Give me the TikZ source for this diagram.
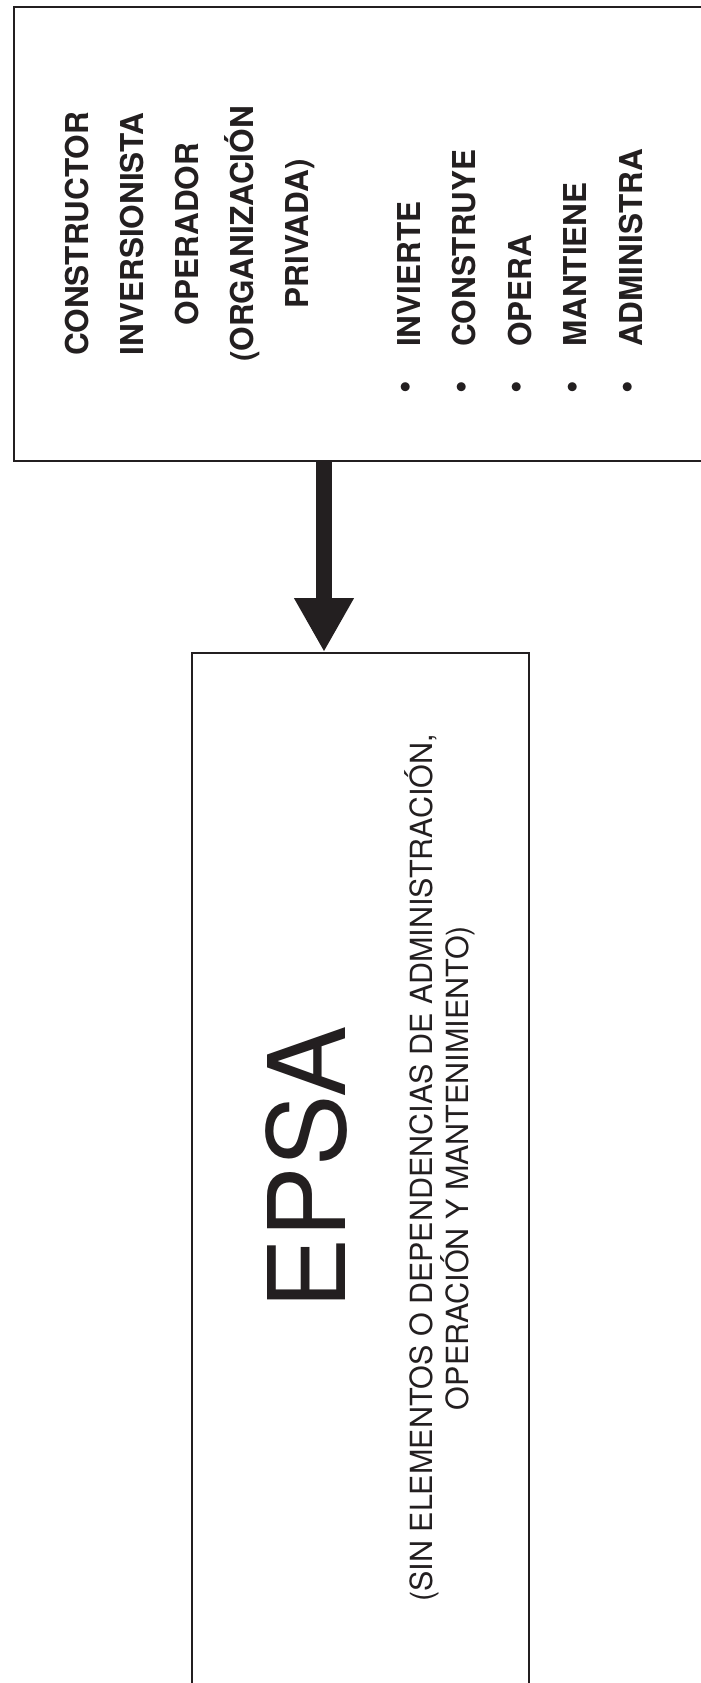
\documentclass[tikz,border=0pt]{standalone}
\usepackage{fontspec}
\setmainfont{TeX Gyre Heros}
\usetikzlibrary{arrows.meta}
\definecolor{ink}{RGB}{35,31,32}
\begin{document}
\begin{tikzpicture}[x=1pt,y=1pt,
  frame/.style={draw=ink, line width=2pt, inner sep=0pt, anchor=north west},
  hd/.style={rotate=90, text=ink, inner sep=0pt, font=\bfseries\fontsize{31.5}{31.5}\selectfont},
  ctr/.style={hd, anchor=base},
  item/.style={hd, anchor=base west},
  dotmark/.style={rotate=90, text=ink, inner sep=0pt, anchor=center, font=\bfseries\fontsize{36}{36}\selectfont},
  sub/.style={rotate=90, text=ink, inner sep=0pt, anchor=base, font=\fontsize{30.5}{30.5}\selectfont},
  big/.style={rotate=90, text=ink, inner sep=0pt, anchor=base, font=\fontsize{107}{107}\selectfont},
  flow/.style={draw=ink, line width=16pt, -{Triangle[width=56pt,length=54pt]}}
]
\useasboundingbox (0,0) rectangle (701,-1683);
\clip (0,0) rectangle (701,-1683);
\fill[white] (0,0) rectangle (701,-1683);

% boxes
\node[frame, minimum width=760pt, minimum height=454pt] (top) at (13,-6) {};
\node[frame, minimum width=337pt, minimum height=1100pt] (bot) at (191,-652) {};

% left group (centred)
\node[ctr] (c1) at (88,-234) {CONSTRUCTOR};
\node[ctr] (c2) at (143,-234) {INVERSIONISTA};
\node[ctr] (c3) at (198,-234) {OPERADOR};
\node[ctr] (c4) at (253,-234) {(ORGANIZACIÓN};
\node[ctr] (c5) at (308,-234) {PRIVADA)};

% bullet list
\node[item] (b1) at (420,-347) {INVIERTE};
\node[item] (b2) at (475.5,-347) {CONSTRUYE};
\node[item] (b3) at (531,-347) {OPERA};
\node[item] (b4) at (586.5,-347) {MANTIENE};
\node[item] (b5) at (642,-347) {ADMINISTRA};
\node[dotmark] (d1) at (409,-387) {•};
\node[dotmark] (d2) at (465,-387) {•};
\node[dotmark] (d3) at (520,-387) {•};
\node[dotmark] (d4) at (576,-387) {•};
\node[dotmark] (d5) at (631,-387) {•};

% bottom box text
\node[big] (epsa) at (345,-1168) {EPSA};
\node[sub] (s1) at (432,-1168) {(SIN ELEMENTOS O DEPENDENCIAS DE ADMINISTRACIÓN,};
\node[sub] (s2) at (468,-1168) {OPERACIÓN Y MANTENIMIENTO)};

% arrow
\coordinate (ax) at (324,0);
\draw[flow] (top.south -| ax) -- (bot.north -| ax);
\end{tikzpicture}
\end{document}
